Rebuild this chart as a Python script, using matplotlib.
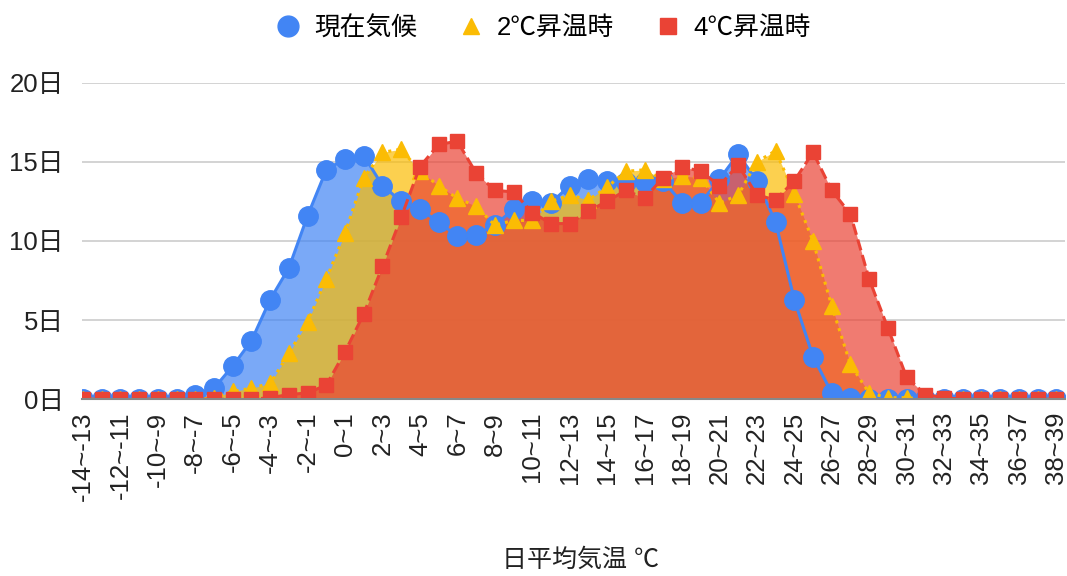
import numpy as np
import matplotlib
matplotlib.use('Agg')
import matplotlib.pyplot as plt
from matplotlib.lines import Line2D

plt.rcParams['font.family'] = ['Liberation Sans', 'Noto Sans CJK JP', 'DejaVu Sans']

# categories: daily mean temperature bins
lows = list(range(-14, 39))
categories = [f'{t}~{t+1}' for t in lows]

series_names = ['現在気候', '2℃昇温時', '4℃昇温時']

current = [0, 0, 0, 0, 0, 0, 0.3, 0.7, 2.1, 3.7, 6.3, 8.3, 11.6, 14.5, 15.2, 15.4,
           13.5, 12.5, 12.0, 11.2, 10.3, 10.4, 11.0, 12.0, 12.5, 12.4, 13.5, 13.9,
           13.8, 13.7, 13.7, 13.8, 12.4, 12.4, 13.9, 15.5, 13.8, 11.2, 6.3, 2.7,
           0.4, 0.1, 0, 0, 0, 0, 0, 0, 0, 0, 0, 0, 0]
plus2 = [0, 0, 0, 0, 0, 0, 0, 0.1, 0.5, 0.7, 1.0, 2.9, 4.9, 7.6, 10.5, 14.0,
         15.6, 15.8, 14.4, 13.5, 12.7, 12.2, 11.0, 11.3, 11.3, 12.5, 12.9, 12.6,
         13.4, 14.4, 14.5, 13.9, 14.1, 14.0, 12.4, 12.9, 15.0, 15.7, 13.0, 10.0,
         5.9, 2.2, 0.4, 0.1, 0.1, 0, 0, 0, 0, 0, 0, 0, 0]
plus4 = [0, 0, 0, 0, 0, 0, 0, 0, 0, 0, 0.1, 0.3, 0.4, 0.9, 3.0, 5.4,
         8.4, 11.5, 14.7, 16.1, 16.3, 14.3, 13.2, 13.1, 11.8, 11.1, 11.1, 11.9,
         12.5, 13.2, 12.7, 14.0, 14.7, 14.4, 13.5, 14.8, 12.9, 12.6, 13.8, 15.6,
         13.2, 11.7, 7.6, 4.5, 1.4, 0.3, 0.1, 0, 0, 0, 0, 0, 0]

yticks = [0, 5, 10, 15, 20]
ytick_labels = ['0日', '5日', '10日', '15日', '20日']

colors = ['#4285F4', '#FBBC04', '#EA4335']
styles = ['-', ':', '--']
markers = ['o', '^', 's']
msizes = [14, 11, 10.5]

x = np.arange(len(categories))
data = [current, plus2, plus4]

fig = plt.figure(figsize=(10.67, 5.76), dpi=100)
ax = fig.add_axes([0.0769, 0.3068, 0.921, 0.5496])

for y, c in zip(data, colors):
    ax.fill_between(x, 0, y, color=c, alpha=0.7, lw=0, zorder=2)
for y, c, ls, m, ms in zip(data, colors, styles, markers, msizes):
    ax.plot(x, y, color=c, ls=ls, lw=2.2, marker=m, ms=ms, mec=c, zorder=3)

ax.set_xlim(-0.05, 52.45)
ax.set_ylim(0, 20)
ax.set_yticks(yticks)
ax.set_yticklabels(ytick_labels, fontsize=18.5, color='#222222')
ax.set_xticks(x[::2])
ax.set_xticklabels(categories[::2], rotation=90, fontsize=18.5, color='#222222')
ax.tick_params(length=0)
ax.tick_params(axis='y', pad=13)
ax.tick_params(axis='x', pad=9)
ax.grid(axis='y', color='#cccccc', lw=1.2, zorder=0)
for s in ['top', 'right', 'left']:
    ax.spines[s].set_visible(False)
ax.spines['bottom'].set_color('#888888')
ax.spines['bottom'].set_linewidth(1.5)
ax.spines['bottom'].set_zorder(4)

fig.text(0.544, 0.008, '日平均気温 ℃', ha='center', va='bottom', fontsize=18, color='#222222')

handles = [Line2D([], [], ls='none', marker=m, color=c, ms=ms) for c, m, ms in zip(colors, markers, [15, 11, 11])]
fig.legend(handles, series_names, loc='center', bbox_to_anchor=(0.508, 0.951), ncol=3,
           frameon=False, fontsize=18.5, handletextpad=0.4, columnspacing=1.5, handlelength=1.2)

fig.savefig('out.png', dpi=100)
